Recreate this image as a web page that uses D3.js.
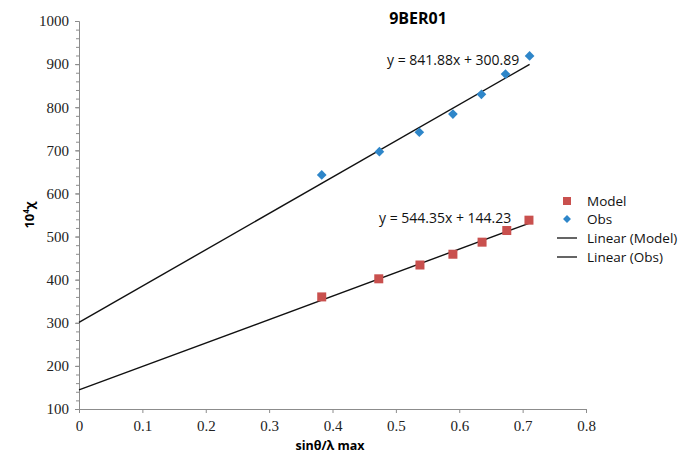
<!DOCTYPE html>
<html><head><meta charset="utf-8">
<script src="https://cdn.jsdelivr.net/npm/d3@7"></script>
<style>body{margin:0;background:#fff}svg{display:block}</style>
</head><body>
<script>
const modelX = [0.383, 0.473, 0.538, 0.590, 0.636, 0.675, 0.710];
const modelY = [360, 402, 434, 459, 487, 514, 538];
const obsX = [0.383, 0.474, 0.537, 0.590, 0.635, 0.673, 0.711];
const obsY = [643, 697, 742, 784, 830, 877, 919];
const modelFit = {slope: 544.35, intercept: 144.23};
const obsFit = {slope: 841.88, intercept: 300.89};
const xTicks = [0, 0.1, 0.2, 0.3, 0.4, 0.5, 0.6, 0.7, 0.8];
const yTicks = [100, 200, 300, 400, 500, 600, 700, 800, 900, 1000];
const legendItems = ["Model", "Obs", "Linear (Model)", "Linear (Obs)"];

const W = 681, H = 453;
const svg = d3.select("body").append("svg").attr("width", W).attr("height", H);
const x = d3.scaleLinear().domain([0, 0.8]).range([79, 586]);
const y = d3.scaleLinear().domain([100, 1000]).range([409, 21]);

const serif = "'Liberation Serif','Times New Roman',serif";
const sans = "'Open Sans','Noto Sans',sans-serif";
const axCol = "#8c8c8c";

svg.append("g").attr("transform", "translate(79,0)")
  .call(d3.axisLeft(y).tickValues(yTicks).tickSize(4).tickPadding(6).tickFormat(d3.format("d")));
svg.append("g").attr("transform", "translate(79,0)")
  .call(d3.axisLeft(y).tickValues(d3.range(100, 1001, 20)).tickSize(3).tickFormat(""))
  .call(g => g.select(".domain").remove());
svg.append("g").attr("transform", "translate(0,409)")
  .call(d3.axisBottom(x).tickValues(xTicks).tickSize(4).tickPadding(7).tickFormat(d => d === 0 ? "0" : d3.format(".1f")(d)));
svg.selectAll(".domain, .tick line").attr("stroke", axCol);
svg.selectAll(".tick text").attr("font-family", serif).attr("font-size", 15).attr("fill", "#222");

const line = d3.line().x(d => x(d[0])).y(d => y(d[1]));
function fitPts(f, xs){ const xm = d3.max(xs); return [[0, f.intercept], [xm, f.slope*xm + f.intercept]]; }
svg.append("path").datum(fitPts(obsFit, obsX)).attr("d", line).attr("fill","none").attr("stroke","#111").attr("stroke-width",1.4);
svg.append("path").datum(fitPts(modelFit, modelX)).attr("d", line).attr("fill","none").attr("stroke","#111").attr("stroke-width",1.4);

const red = "#c9504e", blue = "#2e86c9";
svg.selectAll(".m").data(modelX.map((v,i)=>[v, modelY[i]])).join("rect")
  .attr("x", d => x(d[0]) - 4.5).attr("y", d => y(d[1]) - 4.5).attr("width", 9).attr("height", 9).attr("fill", red);
const diamond = d3.symbol().type(d3.symbolDiamond2).size(60);
svg.selectAll(".o").data(obsX.map((v,i)=>[v, obsY[i]])).join("path")
  .attr("transform", d => `translate(${x(d[0])},${y(d[1])})`).attr("d", diamond).attr("fill", blue);

svg.append("text").attr("x", 387).attr("y", 65).attr("font-family", sans).attr("font-size", 14).attr("fill","#111").text("y = 841.88x + 300.89");
svg.append("text").attr("x", 379).attr("y", 223).attr("font-family", sans).attr("font-size", 14).attr("fill","#111").text("y = 544.35x + 144.23");

svg.append("text").attr("x", 418).attr("y", 24).attr("text-anchor","middle").attr("font-family", sans).attr("font-weight","bold").attr("font-size", 16).text("9BER01");

svg.append("text").attr("x", 330).attr("y", 450).attr("text-anchor","middle").attr("font-family", sans).attr("font-weight","bold").attr("font-size", 12.5).text("sinθ/λ max");
const yl = svg.append("text").attr("transform", "translate(34,215) rotate(-90)").attr("text-anchor","middle")
  .attr("font-family", sans).attr("font-weight","bold").attr("font-size", 13);
yl.append("tspan").text("10");
yl.append("tspan").attr("dy", -5).attr("font-size", 8).text("4");
yl.append("tspan").attr("dy", 5).text("χ");

const lg = svg.append("g").attr("font-family", sans).attr("font-size", 13.5).attr("fill","#111");
const ly = [201, 219, 238, 257];
legendItems.forEach((t, i) => {
  const g = lg.append("g");
  if (i === 0) g.append("rect").attr("x", 563).attr("y", ly[i]-4).attr("width", 8).attr("height", 8).attr("fill", red);
  else if (i === 1) g.append("path").attr("transform", `translate(567,${ly[i]})`).attr("d", d3.symbol().type(d3.symbolDiamond2).size(40)).attr("fill", blue);
  else g.append("line").attr("x1", 557).attr("x2", 577).attr("y1", ly[i]).attr("y2", ly[i]).attr("stroke", "#111").attr("stroke-width", 1.3);
  g.append("text").attr("x", 587).attr("y", ly[i] + 5).text(t);
});
</script>
</body></html>
